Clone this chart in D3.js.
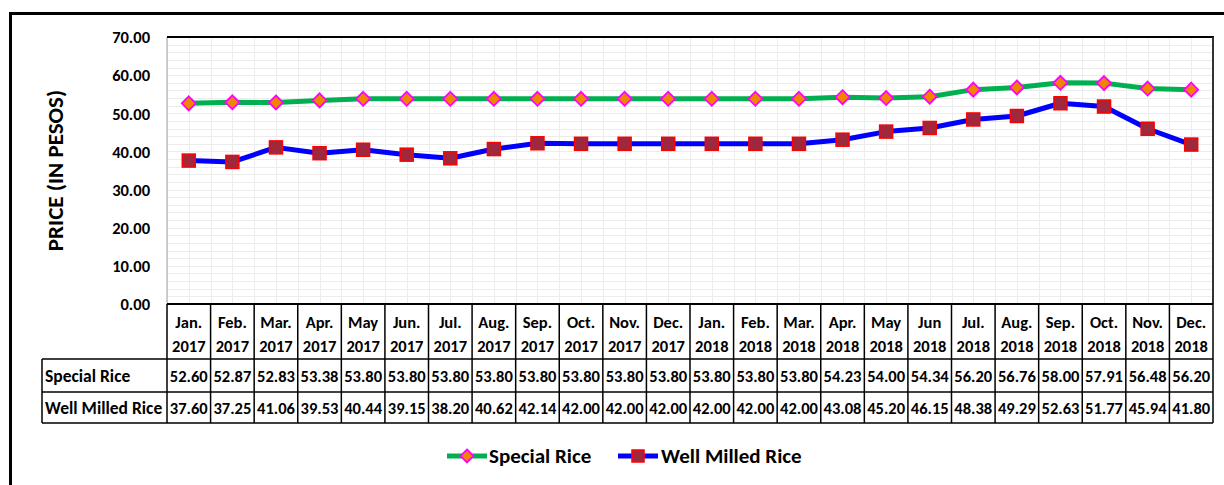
<!DOCTYPE html>
<html>
<head>
<meta charset="utf-8">
<script src="https://cdn.jsdelivr.net/npm/d3@7"></script>
<style>
  html, body { margin: 0; padding: 0; background: #fff; }
  svg { display: block; }
  text { font-family: Carlito, Lato, "Liberation Sans", sans-serif; font-weight: bold; fill: #000; }
</style>
</head>
<body>
<svg id="chart" width="1224" height="485"></svg>
<script>
const months = ["Jan.","Feb.","Mar.","Apr.","May","Jun.","Jul.","Aug.","Sep.","Oct.","Nov.","Dec.",
                "Jan.","Feb.","Mar.","Apr.","May","Jun","Jul.","Aug.","Sep.","Oct.","Nov.","Dec."];
const years = ["2017","2017","2017","2017","2017","2017","2017","2017","2017","2017","2017","2017",
               "2018","2018","2018","2018","2018","2018","2018","2018","2018","2018","2018","2018"];
const specialRice = [52.60,52.87,52.83,53.38,53.80,53.80,53.80,53.80,53.80,53.80,53.80,53.80,
                     53.80,53.80,53.80,54.23,54.00,54.34,56.20,56.76,58.00,57.91,56.48,56.20];
const wellMilledRice = [37.60,37.25,41.06,39.53,40.44,39.15,38.20,40.62,42.14,42.00,42.00,42.00,
                        42.00,42.00,42.00,43.08,45.20,46.15,48.38,49.29,52.63,51.77,45.94,41.80];
const yTicks = [0,10,20,30,40,50,60,70];
const seriesNames = ["Special Rice","Well Milled Rice"];

const svg = d3.select("#chart");
const L = 167, R = 1213, T = 37, B = 304;
const idx = d3.range(months.length);

const x = d3.scaleBand().domain(idx).range([L, R]).paddingInner(0).paddingOuter(0);
const y = d3.scaleLinear().domain([0, 70]).range([B, T]);
const bw = x.bandwidth();
const cx = i => x(i) + bw / 2;

// outer frame (extends beyond right/bottom)
svg.append("line").attr("x1", 9).attr("x2", 1224).attr("y1", 13.5).attr("y2", 13.5)
  .attr("stroke", "#000").attr("stroke-width", 3);
svg.append("line").attr("x1", 10.5).attr("x2", 10.5).attr("y1", 12).attr("y2", 485)
  .attr("stroke", "#000").attr("stroke-width", 3);

// gridlines
const grid = svg.append("g");
d3.range(0, 71, 2).forEach(v => {
  grid.append("line").attr("x1", L).attr("x2", R).attr("y1", Math.round(y(v)) + 0.5).attr("y2", Math.round(y(v)) + 0.5)
    .attr("stroke", "#ececec").attr("stroke-width", 1);
});
idx.forEach(i => {
  [x(i), cx(i)].forEach(xx => {
    grid.append("line").attr("x1", Math.round(xx) + 0.5).attr("x2", Math.round(xx) + 0.5).attr("y1", T).attr("y2", B)
      .attr("stroke", "#ececec").attr("stroke-width", 1);
  });
});

// plot borders
svg.append("line").attr("x1", L).attr("x2", L).attr("y1", T).attr("y2", B).attr("stroke", "#a0a0a0").attr("stroke-width", 1);
svg.append("line").attr("x1", L).attr("x2", R + 1).attr("y1", T).attr("y2", T).attr("stroke", "#000").attr("stroke-width", 2);
svg.append("line").attr("x1", R).attr("x2", R).attr("y1", T).attr("y2", B).attr("stroke", "#333").attr("stroke-width", 2);

// y axis labels
const yAxis = d3.axisLeft(y).tickValues(yTicks).tickFormat(d3.format(".2f")).tickSize(0).tickPadding(0);
const ya = svg.append("g").attr("transform", `translate(${L - 17},0)`).call(yAxis);
ya.select(".domain").remove();
ya.selectAll("text").attr("font-size", 16.5).attr("font-family", "Carlito, Lato, sans-serif").attr("font-weight", "bold").attr("fill", "#000").attr("dy", "0.35em");

// y title
svg.append("text").attr("transform", `translate(55,${(T + B) / 2}) rotate(-90)`)
  .attr("text-anchor", "middle").attr("dy", "0.35em").attr("font-size", 23).text("PRICE (IN PESOS)");

// lines
const lineGen = vals => d3.line().x((d, i) => cx(i)).y(d => y(d))(vals);
svg.append("path").attr("d", lineGen(specialRice)).attr("fill", "none").attr("stroke", "#00B050").attr("stroke-width", 5).attr("stroke-linejoin", "round");
svg.append("path").attr("d", lineGen(wellMilledRice)).attr("fill", "none").attr("stroke", "#0000FF").attr("stroke-width", 5).attr("stroke-linejoin", "round");

const diamond = (px, py, r) => `M${px},${py - r}L${px + r},${py}L${px},${py + r}L${px - r},${py}Z`;
svg.append("g").selectAll("path").data(specialRice).join("path")
  .attr("d", (d, i) => diamond(cx(i), y(d), 7))
  .attr("fill", "#F28500").attr("stroke", "#FF00FF").attr("stroke-width", 1.8);
svg.append("g").selectAll("rect").data(wellMilledRice).join("rect")
  .attr("x", (d, i) => cx(i) - 6.5).attr("y", d => y(d) - 6.5).attr("width", 13).attr("height", 13)
  .attr("fill", "#A0283C").attr("stroke", "#FF0000").attr("stroke-width", 1.5);

// data table
const tbl = svg.append("g");
const hTop = B, hBot = 359, r1 = 392, r2 = 423, labL = 42;
const bc = "#000", bwid = 1.5;
tbl.append("line").attr("x1", L).attr("x2", R).attr("y1", hTop).attr("y2", hTop).attr("stroke", bc).attr("stroke-width", 2);
[hBot, r1, r2].forEach(yy => tbl.append("line").attr("x1", labL).attr("x2", R).attr("y1", yy).attr("y2", yy).attr("stroke", bc).attr("stroke-width", bwid));
tbl.append("line").attr("x1", labL).attr("x2", labL).attr("y1", hBot).attr("y2", r2).attr("stroke", bc).attr("stroke-width", bwid);
idx.concat([months.length]).forEach(i => {
  const xx = i < months.length ? x(i) : R;
  tbl.append("line").attr("x1", xx).attr("x2", xx).attr("y1", hTop).attr("y2", r2).attr("stroke", bc).attr("stroke-width", bwid);
});
const fs = 16.5;
tbl.selectAll("text.m").data(months).join("text").attr("class", "m")
  .attr("x", (d, i) => cx(i)).attr("y", 328).attr("text-anchor", "middle").attr("font-size", fs).text(d => d);
tbl.selectAll("text.yr").data(years).join("text").attr("class", "yr")
  .attr("x", (d, i) => cx(i)).attr("y", 352).attr("text-anchor", "middle").attr("font-size", fs).text(d => d);
tbl.selectAll("text.s").data(specialRice).join("text").attr("class", "s")
  .attr("x", (d, i) => cx(i)).attr("y", 382).attr("text-anchor", "middle").attr("font-size", fs).text(d => d.toFixed(2));
tbl.selectAll("text.w").data(wellMilledRice).join("text").attr("class", "w")
  .attr("x", (d, i) => cx(i)).attr("y", 414).attr("text-anchor", "middle").attr("font-size", fs).text(d => d.toFixed(2));
tbl.append("text").attr("x", 45).attr("y", 382).attr("font-size", 17.5).text(seriesNames[0]);
tbl.append("text").attr("x", 45).attr("y", 414).attr("font-size", 17.5).text(seriesNames[1]);

// legend
const lg = svg.append("g");
const ly = 456;
lg.append("line").attr("x1", 447).attr("x2", 487).attr("y1", ly).attr("y2", ly).attr("stroke", "#00B050").attr("stroke-width", 5);
lg.append("path").attr("d", diamond(467, ly, 6.5)).attr("fill", "#F28500").attr("stroke", "#FF00FF").attr("stroke-width", 1.8);
lg.append("text").attr("x", 489).attr("y", ly).attr("dy", "0.35em").attr("font-size", 21).text(seriesNames[0]);
lg.append("line").attr("x1", 618).attr("x2", 658).attr("y1", ly).attr("y2", ly).attr("stroke", "#0000FF").attr("stroke-width", 5);
lg.append("rect").attr("x", 632).attr("y", ly - 6).attr("width", 12).attr("height", 12).attr("fill", "#A0283C").attr("stroke", "#FF0000").attr("stroke-width", 1.5);
lg.append("text").attr("x", 661).attr("y", ly).attr("dy", "0.35em").attr("font-size", 21).text(seriesNames[1]);
</script>
</body>
</html>
